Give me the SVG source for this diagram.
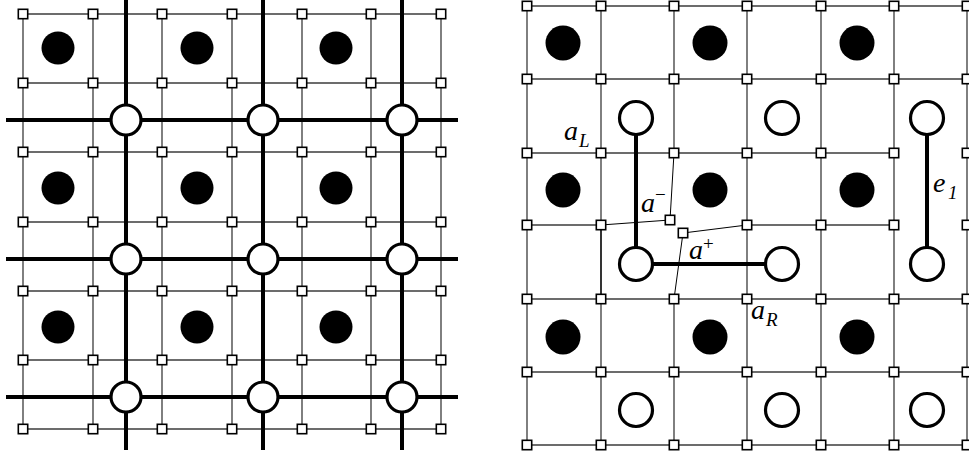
<svg xmlns="http://www.w3.org/2000/svg" xmlns:xlink="http://www.w3.org/1999/xlink" width="969" height="457" viewBox="0 0 969 457">
<style>
.grid{fill:none;stroke:#3c3c3c;stroke-width:1.3}
.thin{fill:none;stroke:#000;stroke-width:1}
.dark{fill:none;stroke:#000;stroke-width:1.6}
.thick{fill:none;stroke:#000;stroke-width:4}
.sq{fill:#fff;stroke:#000;stroke-width:1.6}
.dot{fill:#000}
.open{fill:#fff;stroke:#000;stroke-width:3.2}
.lbl{font-family:"Liberation Serif",serif;font-style:italic;font-size:28px;fill:#000}
.sub{font-family:"Liberation Serif",serif;font-style:italic;font-size:19px;fill:#000}
.sup{font-family:"Liberation Serif",serif;font-size:19px;fill:#000}
</style>
<defs>
<rect id="sq" class="sq" x="-4.7" y="-4.7" width="9.4" height="9.4"/>
</defs>
<rect width="969" height="457" fill="#fff"/>
<g id="connectors">
<path class="grid" d="M23 14H441M23 83H441M23 152H441M23 222H441M23 291H441M23 360H441M23 429H441M23 14V429M93 14V429M162 14V429M232 14V429M302 14V429M371 14V429M441 14V429"/>
<path class="thick" d="M126 0V450M263 0V450M402 0V450M6 120H458M6 259H458M6 397H458"/>
<path class="grid" d="M527 6H967M527 79H967M527 153H894M527 225H601M747 225H894M527 299H967M527 372H967M527 445H967M527 6V445M601 6V225M601 298V445M674 6V153M674 299V445M747 6V445M821 6V445M894 6V445M967 6V445"/>
<path class="dark" d="M601 225V299"/>
<path class="thin" d="M601 225L670 220L674 153M747 225L683 233L674 299"/>
<path class="thick" d="M636 118V264H782M927 118V264"/>
</g>
<g id="left-plaquettes">
<g id="lp1"><circle class="dot" cx="58" cy="48" r="16.5"/></g>
<g id="lp2"><circle class="dot" cx="197" cy="48" r="16.5"/></g>
<g id="lp3"><circle class="dot" cx="336" cy="48" r="16.5"/></g>
<g id="lp4"><circle class="dot" cx="58" cy="188" r="16.5"/></g>
<g id="lp5"><circle class="dot" cx="197" cy="188" r="16.5"/></g>
<g id="lp6"><circle class="dot" cx="336" cy="188" r="16.5"/></g>
<g id="lp7"><circle class="dot" cx="58" cy="327" r="16.5"/></g>
<g id="lp8"><circle class="dot" cx="197" cy="327" r="16.5"/></g>
<g id="lp9"><circle class="dot" cx="336" cy="327" r="16.5"/></g>
</g>
<g id="left-vertices">
<g id="lv1"><circle class="open" cx="126" cy="120" r="15"/></g>
<g id="lv2"><circle class="open" cx="263" cy="120" r="15"/></g>
<g id="lv3"><circle class="open" cx="402" cy="120" r="15"/></g>
<g id="lv4"><circle class="open" cx="126" cy="259" r="15"/></g>
<g id="lv5"><circle class="open" cx="263" cy="259" r="15"/></g>
<g id="lv6"><circle class="open" cx="402" cy="259" r="15"/></g>
<g id="lv7"><circle class="open" cx="126" cy="397" r="15"/></g>
<g id="lv8"><circle class="open" cx="263" cy="397" r="15"/></g>
<g id="lv9"><circle class="open" cx="402" cy="397" r="15"/></g>
</g>
<g id="left-squares">
<use xlink:href="#sq" x="23" y="14"/><use xlink:href="#sq" x="93" y="14"/><use xlink:href="#sq" x="162" y="14"/><use xlink:href="#sq" x="232" y="14"/><use xlink:href="#sq" x="302" y="14"/><use xlink:href="#sq" x="371" y="14"/><use xlink:href="#sq" x="441" y="14"/>
<use xlink:href="#sq" x="23" y="83"/><use xlink:href="#sq" x="93" y="83"/><use xlink:href="#sq" x="162" y="83"/><use xlink:href="#sq" x="232" y="83"/><use xlink:href="#sq" x="302" y="83"/><use xlink:href="#sq" x="371" y="83"/><use xlink:href="#sq" x="441" y="83"/>
<use xlink:href="#sq" x="23" y="152"/><use xlink:href="#sq" x="93" y="152"/><use xlink:href="#sq" x="162" y="152"/><use xlink:href="#sq" x="232" y="152"/><use xlink:href="#sq" x="302" y="152"/><use xlink:href="#sq" x="371" y="152"/><use xlink:href="#sq" x="441" y="152"/>
<use xlink:href="#sq" x="23" y="222"/><use xlink:href="#sq" x="93" y="222"/><use xlink:href="#sq" x="162" y="222"/><use xlink:href="#sq" x="232" y="222"/><use xlink:href="#sq" x="302" y="222"/><use xlink:href="#sq" x="371" y="222"/><use xlink:href="#sq" x="441" y="222"/>
<use xlink:href="#sq" x="23" y="291"/><use xlink:href="#sq" x="93" y="291"/><use xlink:href="#sq" x="162" y="291"/><use xlink:href="#sq" x="232" y="291"/><use xlink:href="#sq" x="302" y="291"/><use xlink:href="#sq" x="371" y="291"/><use xlink:href="#sq" x="441" y="291"/>
<use xlink:href="#sq" x="23" y="360"/><use xlink:href="#sq" x="93" y="360"/><use xlink:href="#sq" x="162" y="360"/><use xlink:href="#sq" x="232" y="360"/><use xlink:href="#sq" x="302" y="360"/><use xlink:href="#sq" x="371" y="360"/><use xlink:href="#sq" x="441" y="360"/>
<use xlink:href="#sq" x="23" y="429"/><use xlink:href="#sq" x="93" y="429"/><use xlink:href="#sq" x="162" y="429"/><use xlink:href="#sq" x="232" y="429"/><use xlink:href="#sq" x="302" y="429"/><use xlink:href="#sq" x="371" y="429"/><use xlink:href="#sq" x="441" y="429"/>
</g>
<g id="right-plaquettes">
<g id="rp1"><circle class="dot" cx="563" cy="43" r="17.5"/></g>
<g id="rp2"><circle class="dot" cx="710" cy="43" r="17.5"/></g>
<g id="rp3"><circle class="dot" cx="857" cy="43" r="17.5"/></g>
<g id="rp4"><circle class="dot" cx="563" cy="190" r="17.5"/></g>
<g id="rp5"><circle class="dot" cx="710" cy="190" r="17.5"/></g>
<g id="rp6"><circle class="dot" cx="857" cy="190" r="17.5"/></g>
<g id="rp7"><circle class="dot" cx="563" cy="337" r="17.5"/></g>
<g id="rp8"><circle class="dot" cx="710" cy="337" r="17.5"/></g>
<g id="rp9"><circle class="dot" cx="857" cy="337" r="17.5"/></g>
</g>
<g id="right-vertices">
<g id="rv1"><circle class="open" cx="636" cy="118" r="16.5"/></g>
<g id="rv2"><circle class="open" cx="782" cy="118" r="16.5"/></g>
<g id="rv3"><circle class="open" cx="927" cy="118" r="16.5"/></g>
<g id="rv4"><circle class="open" cx="636" cy="264" r="16.5"/></g>
<g id="rv5"><circle class="open" cx="782" cy="264" r="16.5"/></g>
<g id="rv6"><circle class="open" cx="927" cy="264" r="16.5"/></g>
<g id="rv7"><circle class="open" cx="636" cy="410" r="16.5"/></g>
<g id="rv8"><circle class="open" cx="782" cy="410" r="16.5"/></g>
<g id="rv9"><circle class="open" cx="927" cy="410" r="16.5"/></g>
</g>
<g id="right-squares">
<use xlink:href="#sq" x="527" y="6"/><use xlink:href="#sq" x="601" y="6"/><use xlink:href="#sq" x="674" y="6"/><use xlink:href="#sq" x="747" y="6"/><use xlink:href="#sq" x="821" y="6"/><use xlink:href="#sq" x="894" y="6"/><use xlink:href="#sq" x="967" y="6"/>
<use xlink:href="#sq" x="527" y="79"/><use xlink:href="#sq" x="601" y="79"/><use xlink:href="#sq" x="674" y="79"/><use xlink:href="#sq" x="747" y="79"/><use xlink:href="#sq" x="821" y="79"/><use xlink:href="#sq" x="894" y="79"/><use xlink:href="#sq" x="967" y="79"/>
<use xlink:href="#sq" x="527" y="153"/><use xlink:href="#sq" x="601" y="153"/><use xlink:href="#sq" x="674" y="153"/><use xlink:href="#sq" x="747" y="153"/><use xlink:href="#sq" x="821" y="153"/><use xlink:href="#sq" x="894" y="153"/><use xlink:href="#sq" x="967" y="153"/>
<use xlink:href="#sq" x="527" y="225"/><use xlink:href="#sq" x="601" y="225"/><use id="a-minus" xlink:href="#sq" x="670" y="220"/><use id="a-plus" xlink:href="#sq" x="683" y="233"/><use xlink:href="#sq" x="747" y="225"/><use xlink:href="#sq" x="821" y="225"/><use xlink:href="#sq" x="894" y="225"/><use xlink:href="#sq" x="967" y="225"/>
<use xlink:href="#sq" x="527" y="299"/><use xlink:href="#sq" x="601" y="299"/><use xlink:href="#sq" x="674" y="299"/><use xlink:href="#sq" x="747" y="299"/><use xlink:href="#sq" x="821" y="299"/><use xlink:href="#sq" x="894" y="299"/><use xlink:href="#sq" x="967" y="299"/>
<use xlink:href="#sq" x="527" y="372"/><use xlink:href="#sq" x="601" y="372"/><use xlink:href="#sq" x="674" y="372"/><use xlink:href="#sq" x="747" y="372"/><use xlink:href="#sq" x="821" y="372"/><use xlink:href="#sq" x="894" y="372"/><use xlink:href="#sq" x="967" y="372"/>
<use xlink:href="#sq" x="527" y="445"/><use xlink:href="#sq" x="601" y="445"/><use xlink:href="#sq" x="674" y="445"/><use xlink:href="#sq" x="747" y="445"/><use xlink:href="#sq" x="821" y="445"/><use xlink:href="#sq" x="894" y="445"/><use xlink:href="#sq" x="967" y="445"/>
</g>
<g id="labels">
<text class="lbl" x="564" y="140">a</text><text class="sub" x="579" y="147">L</text>
<text class="lbl" x="641" y="212">a</text><text class="sup" x="655" y="201">−</text>
<text class="lbl" x="689" y="259">a</text><text class="sup" x="703" y="250">+</text>
<text class="lbl" x="751" y="319">a</text><text class="sub" x="766" y="326">R</text>
<text class="lbl" x="933" y="192">e</text><text class="sub" x="948" y="199">1</text>
</g>
</svg>
